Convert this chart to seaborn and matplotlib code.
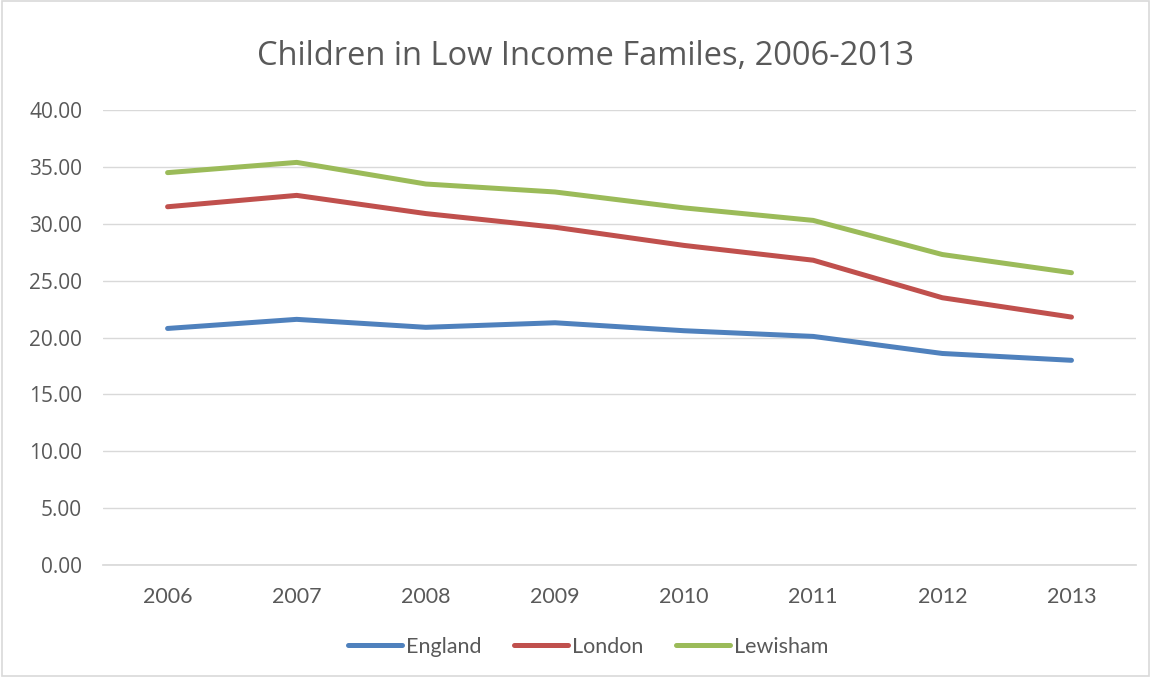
import pandas as pd
import matplotlib
matplotlib.use("Agg")
import matplotlib.pyplot as plt
import seaborn as sns

# Values
years = ["2006", "2007", "2008", "2009", "2010", "2011", "2012", "2013"]
england = [20.8, 21.6, 20.9, 21.3, 20.6, 20.1, 18.6, 18.0]
london = [31.5, 32.5, 30.9, 29.7, 28.1, 26.8, 23.5, 21.8]
lewisham = [34.5, 35.4, 33.5, 32.8, 31.4, 30.3, 27.3, 25.7]

series_names = ["England", "London", "Lewisham"]
palette = ["#4F81BD", "#C0504D", "#9BBB59"]

# Long-form table for seaborn
df = pd.DataFrame({
    "year": years * 3,
    "value": england + london + lewisham,
    "area": [n for n in series_names for _ in years],
})

sns.set_theme(style="white")
plt.rcParams["font.family"] = ["Lato", "DejaVu Sans"]
text_col = "#595959"

fig = plt.figure(figsize=(11.51, 6.77), dpi=100)
ax = fig.add_axes([0.0895, 0.1654, 0.8975, 0.672])

sns.lineplot(data=df, x="year", y="value", hue="area", palette=palette,
             linewidth=3.6, sort=False, ax=ax, legend=True)
for line in ax.lines:
    line.set_solid_capstyle("round")
    line.set_solid_joinstyle("round")

ax.set_xlim(-0.5, len(years) - 0.5)
ax.set_ylim(0, 40)
ax.set_yticks([i * 5 for i in range(9)])
ax.set_yticklabels([f"{i * 5:.2f}" for i in range(9)],
                   family=["Open Sans", "DejaVu Sans"], fontsize=15)
ax.grid(axis="y", color="#D9D9D9", linewidth=1)
ax.set_axisbelow(True)
for side in ["top", "right", "left"]:
    ax.spines[side].set_visible(False)
ax.spines["bottom"].set_color("#D9D9D9")
ax.tick_params(axis="both", length=0, colors=text_col)
ax.tick_params(axis="x", labelsize=15.5, pad=16)
ax.tick_params(axis="y", pad=15)
ax.set_xlabel("")
ax.set_ylabel("")

fig.text(0.509, 0.916, "Children in Low Income Familes, 2006-2013", ha="center", va="center",
         fontsize=23.5, color=text_col, family=["Open Sans", "DejaVu Sans"])

handles, labels = ax.get_legend_handles_labels()
fig.legend(handles, labels, loc="center", bbox_to_anchor=(0.511, 1 - 647 / 677),
           ncol=3, frameon=False, fontsize=15.5, handlelength=2.5,
           handletextpad=0.2, columnspacing=1.5, labelcolor=text_col)
ax.get_legend().remove()

fig.patches.append(plt.Rectangle((0.002, 0.002), 0.996, 0.996, transform=fig.transFigure,
                                 fill=False, edgecolor="#D9D9D9", linewidth=1.2))

fig.savefig("out.png", dpi=100, facecolor="white")
